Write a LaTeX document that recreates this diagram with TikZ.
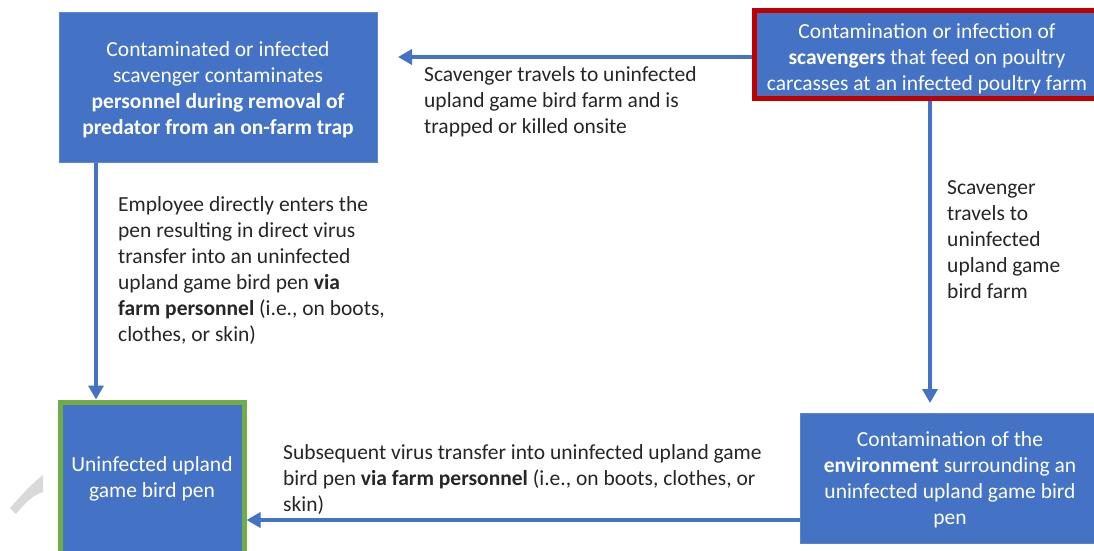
\documentclass[tikz,border=0pt]{standalone}
\usepackage{fontspec}
\setmainfont{Carlito}
\usetikzlibrary{arrows.meta}
\definecolor{boxblue}{HTML}{4472C4}
\definecolor{edgeblue}{HTML}{5B85CF}
\definecolor{srcred}{HTML}{C00000}
\definecolor{pengreen}{HTML}{70AD47}
\definecolor{markgrey}{HTML}{D9D9D9}
% extra room above the first line of a box text
\newcommand{\firstline}[1]{\rule{0pt}{#1pt}}
\tikzset{
  stepbox/.style={draw=edgeblue, line width=1pt, fill=boxblue, text=white,
    align=center, inner sep=0pt, font=\fontsize{21.5}{26}\selectfont},
  flow/.style={draw=boxblue, line width=3.8pt, -{Triangle[length=14pt,width=15pt]}},
  note/.style={align=left, inner sep=0pt, anchor=north west, text=black!85,
    font=\fontsize{21.5}{26}\selectfont}
}
\begin{document}
\begin{tikzpicture}[x=1pt,y=-1pt]
\useasboundingbox (0,0) rectangle (1094,550);
\fill[white] (0,0) rectangle (1094,550);

% faint mark at the lower left
\fill[markgrey] (10,508) -- (16,514) .. controls (25,503) and (33,495) .. (43,492)
  -- (43,475) .. controls (30,485) and (20,497) .. cycle;

% boxes
\node[stepbox, minimum width=318pt, minimum height=150pt] (trap) at (218,87)
  {\firstline{21}Contaminated or infected\\scavenger contaminates\\\textbf{personnel during removal of}\\\textbf{predator from an on-farm trap}};
\node[stepbox, draw=srcred, line width=5pt, minimum width=346pt, minimum height=88pt] (source) at (927,54)
  {\firstline{25}Contamination or infection of\\\textbf{scavengers} that feed on poultry\\carcasses at an infected poultry farm};
\node[stepbox, minimum width=300pt, minimum height=130pt] (env) at (950,478)
  {\firstline{19}Contamination of the\\\textbf{environment} surrounding an\\uninfected upland game bird\\pen};
\node[stepbox, draw=pengreen, line width=5pt, minimum width=184pt, minimum height=152pt] (pen) at (152,478)
  {\firstline{17}Uninfected upland\\game bird pen};

% connector ends
\coordinate (topend) at (398,57);
\coordinate (rightend) at (930,403);

% connectors
\draw[flow] (source.west |- topend) -- (topend);
\draw[flow] (source.south -| rightend) -- (rightend);
\draw[flow] (env.west |- 0,520) -- (pen.east |- 0,520);
\draw[flow] (trap.south -| 96,0) -- (pen.north -| 96,0);

% labels
\node[note] (ltop) at (424,66)
  {Scavenger travels to uninfected\\upland game bird farm and is\\trapped or killed onsite};
\node[note] (lright) at (947,180)
  {Scavenger\\travels to\\uninfected\\upland game\\bird farm};
\node[note] (lleft) at (118,196)
  {Employee directly enters the\\pen resulting in direct virus\\transfer into an uninfected\\upland game bird pen \textbf{via}\\\textbf{farm personnel} (i.e., on boots,\\clothes, or skin)};
\node[note] (lbottom) at (283,444)
  {Subsequent virus transfer into uninfected upland game\\bird pen \textbf{via farm personnel} (i.e., on boots, clothes, or\\skin)};
\end{tikzpicture}
\end{document}
